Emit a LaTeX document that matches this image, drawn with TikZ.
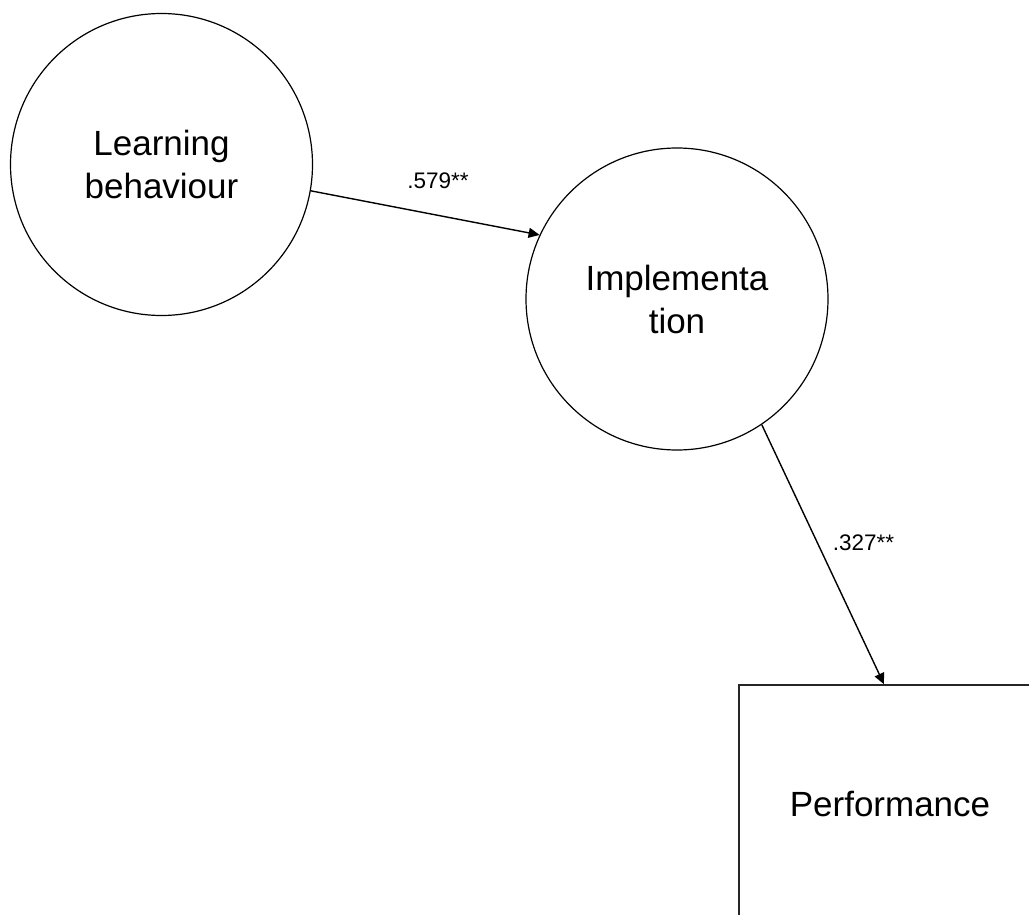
\documentclass[tikz,border=0pt]{standalone}
\usepackage{fontspec}
\setmainfont{Liberation Sans}
\usetikzlibrary{arrows.meta}
\begin{document}
\begin{tikzpicture}[x=1pt,y=-1pt,
  construct/.style={circle, draw=black, line width=1.2pt, minimum size=302pt,
    inner sep=0pt, align=center, font=\fontsize{35}{43}\selectfont},
  outcome/.style={rectangle, draw=black!85, line width=1.5pt, minimum width=302pt,
    minimum height=239pt, inner sep=0pt, font=\fontsize{35}{43}\selectfont},
  link/.style={line width=1.4pt, -{Triangle[length=11pt,width=10pt]}},
  coef/.style={font=\fontsize{22.5}{27}\selectfont, anchor=base, inner sep=0pt}]
% page frame; the outcome box runs past the right and bottom edges
\path[use as bounding box] (0,0) rectangle (1029,915);
\clip (0,0) rectangle (1029,915);

% constructs
\node[construct] (learn) at (161.5,164.5) {Learning\\behaviour};
\node[construct] (impl) at (677,299) {Implementa\\tion};
\node[outcome] (perf) at (890,804.5) {Performance};

% paths with standardised coefficients
\draw[link] (learn.-10.35) -- (impl.155.6);
\draw[link] (impl.-56.7) -- ([xshift=-6pt]perf.north);
\node[coef] (b1) at (438,189) {.579**};
\node[coef] (b2) at (863.5,550) {.327**};
\end{tikzpicture}
\end{document}
